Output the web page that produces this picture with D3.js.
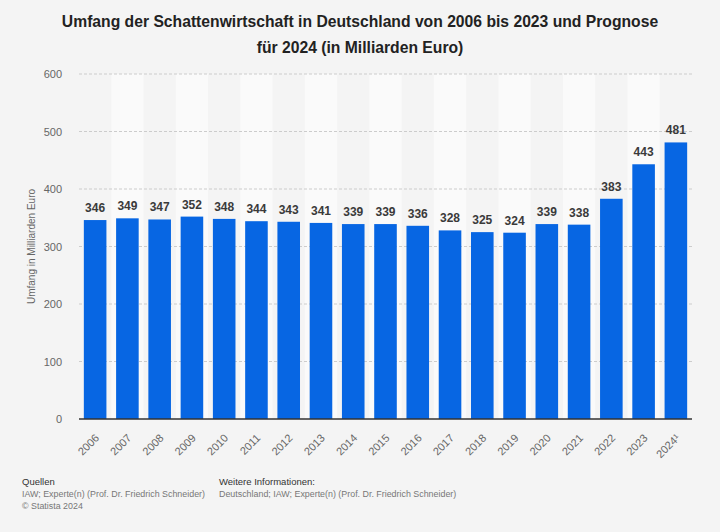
<!DOCTYPE html>
<html>
<head>
<meta charset="utf-8">
<script src="https://cdn.jsdelivr.net/npm/d3@7"></script>
<style>
  html, body { margin: 0; padding: 0; background: #f4f4f4; }
  svg { display: block; font-family: "Liberation Sans", Arial, sans-serif; }
</style>
</head>
<body>
<div id="app"></div>
<script>
const years = ["2006", "2007", "2008", "2009", "2010", "2011", "2012", "2013", "2014", "2015",
  "2016", "2017", "2018", "2019", "2020", "2021", "2022", "2023", "2024¹"];
const values = [346, 349, 347, 352, 348, 344, 343, 341, 339, 339, 336, 328, 325, 324, 339, 338, 383, 443, 481];
const yTicks = [0, 100, 200, 300, 400, 500, 600];

const width = 720, height = 532;
const margin = { top: 74, right: 28, bottom: 113, left: 79 };

const svg = d3.select("#app")
  .append("svg")
  .attr("width", width)
  .attr("height", height);

svg.append("rect").attr("width", width).attr("height", height).attr("fill", "#f4f4f4");

const x = d3.scaleBand()
  .domain(years)
  .range([margin.left, width - margin.right])
  .paddingInner(0.3)
  .paddingOuter(0.15);

const y = d3.scaleLinear()
  .domain([0, 600])
  .range([height - margin.bottom, margin.top]);

// alternating column backgrounds
const step = x.step();
svg.append("g")
  .selectAll("rect")
  .data(years.filter((d, i) => i % 2 === 1))
  .join("rect")
  .attr("x", d => x(d) - step * x.paddingInner() / 2)
  .attr("y", y(600))
  .attr("width", step)
  .attr("height", y(0) - y(600))
  .attr("fill", "#fafafa");

// gridlines
svg.append("g")
  .selectAll("line")
  .data(yTicks.filter(d => d > 0))
  .join("line")
  .attr("x1", margin.left)
  .attr("x2", width - margin.right)
  .attr("y1", d => y(d))
  .attr("y2", d => y(d))
  .attr("stroke", "#cccccc")
  .attr("stroke-dasharray", "3,2")
  .attr("stroke-width", 1);

// y axis
const yAxis = svg.append("g")
  .attr("transform", `translate(${margin.left},0)`)
  .call(d3.axisLeft(y).tickValues(yTicks).tickSize(0).tickPadding(17));
yAxis.select(".domain").remove();
yAxis.selectAll("text")
  .attr("fill", "#666")
  .style("font-size", "11px");

// bars
svg.append("g")
  .selectAll("rect")
  .data(values)
  .join("rect")
  .attr("x", (d, i) => x(years[i]))
  .attr("y", d => y(d))
  .attr("width", x.bandwidth())
  .attr("height", d => y(0) - y(d))
  .attr("fill", "#0766e3");

// value labels
svg.append("g")
  .selectAll("text")
  .data(values)
  .join("text")
  .attr("x", (d, i) => x(years[i]) + x.bandwidth() / 2)
  .attr("y", d => y(d) - 8)
  .attr("text-anchor", "middle")
  .attr("fill", "#3a3a3a")
  .style("font-size", "12px")
  .style("font-weight", "bold")
  .text(d => d);

// baseline
svg.append("line")
  .attr("x1", margin.left)
  .attr("x2", width - margin.right)
  .attr("y1", y(0))
  .attr("y2", y(0))
  .attr("stroke", "#333")
  .attr("stroke-width", 1.5);

// x axis
const xAxis = svg.append("g")
  .attr("transform", `translate(0,${y(0)})`)
  .call(d3.axisBottom(x).tickSize(0));
xAxis.select(".domain").remove();
xAxis.selectAll("text")
  .attr("fill", "#666")
  .style("font-size", "11px")
  .attr("text-anchor", "end")
  .attr("y", 0)
  .attr("dy", "0.35em")
  .attr("transform", "translate(2,17) rotate(-45)");

// y axis title
svg.append("text")
  .attr("transform", `translate(35,${(y(0) + y(600)) / 2}) rotate(-90)`)
  .attr("text-anchor", "middle")
  .attr("fill", "#666")
  .style("font-size", "10px")
  .text("Umfang in Milliarden Euro");

// title
const title = svg.append("text")
  .attr("text-anchor", "middle")
  .attr("fill", "#222")
  .style("font-size", "15.7px")
  .style("font-weight", "bold");
title.append("tspan").attr("x", 360).attr("y", 27)
  .text("Umfang der Schattenwirtschaft in Deutschland von 2006 bis 2023 und Prognose");
title.append("tspan").attr("x", 360).attr("y", 53)
  .text("für 2024 (in Milliarden Euro)");

// footer
const foot = svg.append("g");
foot.append("text").attr("x", 22).attr("y", 485).attr("fill", "#333").style("font-size", "9.5px").text("Quellen");
foot.append("text").attr("x", 22).attr("y", 497).attr("fill", "#777").style("font-size", "8.9px")
  .text("IAW; Experte(n) (Prof. Dr. Friedrich Schneider)");
foot.append("text").attr("x", 22).attr("y", 509).attr("fill", "#777").style("font-size", "8.9px").text("© Statista 2024");
foot.append("text").attr("x", 219).attr("y", 485).attr("fill", "#333").style("font-size", "9.5px").text("Weitere Informationen:");
foot.append("text").attr("x", 219).attr("y", 497).attr("fill", "#777").style("font-size", "8.9px")
  .text("Deutschland; IAW; Experte(n) (Prof. Dr. Friedrich Schneider)");
</script>
</body>
</html>
